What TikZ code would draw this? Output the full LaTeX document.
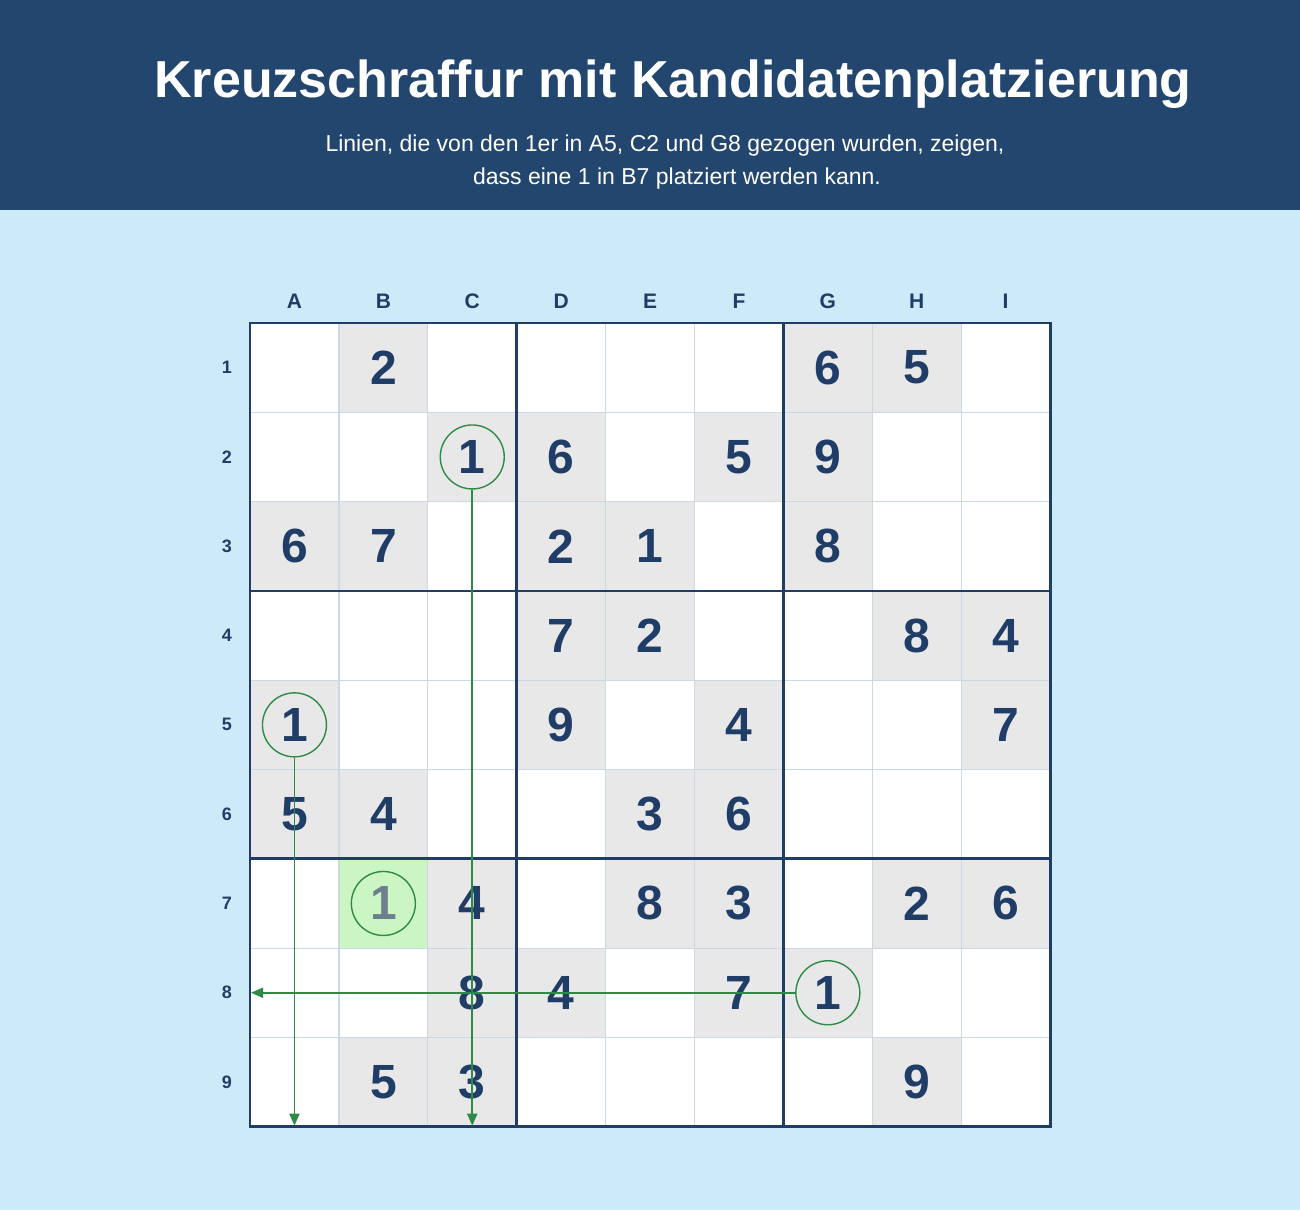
\documentclass[tikz,border=0pt]{standalone}
\usepackage{fontspec}
\setmainfont{Liberation Sans}
\usetikzlibrary{arrows.meta}
\definecolor{hdr}{HTML}{23466F}
\definecolor{bgc}{HTML}{CDEAF9}
\definecolor{given}{HTML}{E8E8E8}
\definecolor{navy}{HTML}{1F3D66}
\definecolor{thinc}{HTML}{C9D9E6}
\definecolor{grn}{HTML}{2E8B46}
\definecolor{hl}{HTML}{CCF5C4}
\definecolor{cand}{HTML}{6E7F8E}
\newcommand\gx{250}
\newcommand\gy{323}
\newcommand\cw{88.9}
\newcommand\ch{89.3}
\begin{document}
\begin{tikzpicture}[x=1pt,y=-1pt,
  digit/.style={text=navy,font=\fontsize{48}{48}\selectfont\bfseries,inner sep=0pt},
  collab/.style={text=navy,font=\fontsize{21}{21}\selectfont\bfseries,inner sep=0pt},
  rowlab/.style={text=navy,font=\fontsize{18}{18}\selectfont\bfseries,inner sep=0pt},
  ring/.style={circle,draw=grn,line width=1.4pt,minimum size=64pt,inner sep=0pt},
  scanline/.style={draw=grn,line width=1.8pt,-{Triangle[length=12pt,width=10pt]}},
  thinline/.style={draw=thinc,line width=1.2pt},
  thickline/.style={draw=navy,line width=2.8pt}
]
\fill[bgc] (0,0) rectangle (1300,1210);
\useasboundingbox (0,0) rectangle (1300,1210);
\fill[hdr] (0,0) rectangle (1300,210);
\node[text=white,font=\fontsize{52}{52}\selectfont\bfseries] (title) at (673,84) {Kreuzschraffur mit Kandidatenplatzierung};
\node[text=white,font=\fontsize{23}{23}\selectfont] (sub1) at (665,146) {Linien, die von den 1er in A5, C2 und G8 gezogen wurden, zeigen,};
\node[text=white,font=\fontsize{23}{23}\selectfont] (sub2) at (677,179) {dass eine 1 in B7 platziert werden kann.};
% board
\fill[white] (\gx,\gy) rectangle ({\gx+9*\cw},{\gy+9*\ch});
\foreach \c/\r in {1/0,6/0,7/0, 2/1,3/1,5/1,6/1, 0/2,1/2,3/2,4/2,6/2, 3/3,4/3,7/3,8/3, 0/4,3/4,5/4,8/4, 0/5,1/5,4/5,5/5, 2/6,4/6,5/6,7/6,8/6, 2/7,3/7,5/7,6/7, 1/8,2/8,7/8}
  \fill[given] ({\gx+\c*\cw},{\gy+\r*\ch}) rectangle ({\gx+(\c+1)*\cw},{\gy+(\r+1)*\ch});
\fill[hl] ({\gx+1*\cw},{\gy+6*\ch}) rectangle ({\gx+2*\cw},{\gy+7*\ch});
\foreach \i in {1,2,4,5,7,8} {
  \draw[thinline] ({\gx+\i*\cw},\gy) -- ({\gx+\i*\cw},{\gy+9*\ch});
  \draw[thinline] (\gx,{\gy+\i*\ch}) -- ({\gx+9*\cw},{\gy+\i*\ch});
}
\foreach \i in {3,6} {
  \draw[thickline] ({\gx+\i*\cw},\gy) -- ({\gx+\i*\cw},{\gy+9*\ch});
  \draw[thickline] (\gx,{\gy+\i*\ch}) -- ({\gx+9*\cw},{\gy+\i*\ch});
}
\draw[thickline] (\gx,\gy) rectangle ({\gx+9*\cw},{\gy+9*\ch});
% labels
\foreach \l [count=\k from 0] in {A,B,C,D,E,F,G,H,I}
  \node[collab] (col\l) at ({\gx+(\k+0.5)*\cw},301) {\l};
\foreach \k in {1,...,9}
  \node[rowlab] (row\k) at (227,{\gy+(\k-0.5)*\ch}) {\k};
% digits
\foreach \c/\r/\d in {1/0/2,6/0/6,7/0/5, 3/1/6,5/1/5,6/1/9, 0/2/6,1/2/7,3/2/2,4/2/1,6/2/8, 3/3/7,4/3/2,7/3/8,8/3/4, 3/4/9,5/4/4,8/4/7, 0/5/5,1/5/4,4/5/3,5/5/6, 2/6/4,4/6/8,5/6/3,7/6/2,8/6/6, 2/7/8,3/7/4,5/7/7, 1/8/5,2/8/3,7/8/9}
  \node[digit] (d\c\r) at ({\gx+(\c+0.5)*\cw},{\gy+(\r+0.5)*\ch}) {\d};
% circled ones
\node[digit] (dA5) at ({\gx+0.5*\cw},{\gy+4.5*\ch}) {1};
\node[digit] (dC2) at ({\gx+2.5*\cw},{\gy+1.5*\ch}) {1};
\node[digit] (dG8) at ({\gx+6.5*\cw},{\gy+7.5*\ch}) {1};
\node[digit,text=cand] (dB7) at ({\gx+1.5*\cw},{\gy+6.5*\ch}) {1};
\node[ring] (cA5) at (dA5) {};
\node[ring] (cC2) at (dC2) {};
\node[ring] (cG8) at (dG8) {};
\node[ring] (cB7) at (dB7) {};
% scan lines
\coordinate (bot) at (0,{\gy+9*\ch-1});
\coordinate (lft) at (\gx+1,0);
\draw[scanline] (cA5.south) -- (cA5.south |- bot);
\draw[scanline] (cC2.south) -- (cC2.south |- bot);
\draw[scanline] (cG8.west) -- (cG8.west -| lft);
\end{tikzpicture}
\end{document}
